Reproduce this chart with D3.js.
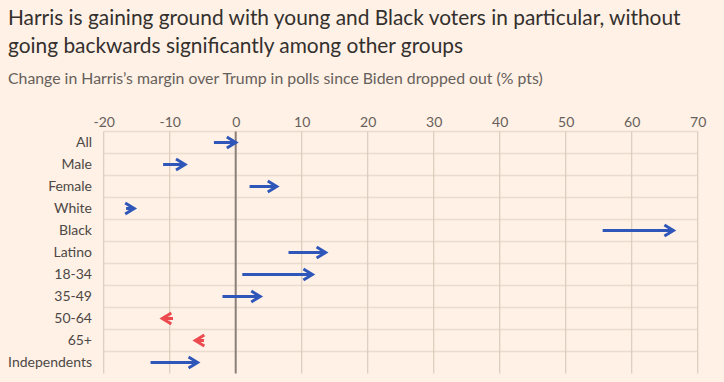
<!DOCTYPE html>
<html><head><meta charset="utf-8">
<script src="https://cdn.jsdelivr.net/npm/d3@7"></script>
<style>
body{margin:0;background:#fff1e5;}
svg{display:block;}
</style></head>
<body>
<svg id="chart" width="724" height="382"></svg>
<script>
const categories = ["All","Male","Female","White","Black","Latino","18-34","35-49","50-64","65+","Independents"];
const startValues = [-3.3,-11.0,2.1,-16.6,55.6,8.0,1.0,-2.0,-9.5,-4.8,-12.9];
const endValues   = [0.4,-7.3,6.6,-15.0,66.7,14.0,12.0,4.1,-11.5,-6.5,-5.4];
const tickValues = [-20,-10,0,10,20,30,40,50,60,70];

const titleLines = ["Harris is gaining ground with young and Black voters in particular, without","going backwards significantly among other groups"];
const subtitle = "Change in Harris\u2019s margin over Trump in polls since Biden dropped out (% pts)";

const font = "Lato, 'Noto Sans', sans-serif";
const svg = d3.select("#chart");
svg.append("rect").attr("width",724).attr("height",382).attr("fill","#fff1e5");

const x = d3.scaleLinear().domain([-20,70]).range([103.7,697.7]);
const y = d3.scaleBand().domain(categories).range([131.5,373.5]);

function fitSize(sel, base, target){
  const w = sel.node().getComputedTextLength();
  sel.attr("font-size", base*target/w);
}

// title
const t = svg.selectAll("text.title").data(titleLines).enter().append("text")
  .attr("class","title")
  .attr("x",8).attr("y",(d,i)=>25+i*28)
  .attr("font-family",font).attr("font-size",20).attr("fill","#33302e")
  .text(d=>d);
const t0 = svg.select("text.title");
const tw = t0.node().getComputedTextLength();
t.attr("font-size", 20*673/tw);

const st = svg.append("text").attr("x",8).attr("y",84)
  .attr("font-family",font).attr("font-size",14).attr("fill","#66605c")
  .text(subtitle);
fitSize(st,14,535);

// horizontal gridlines (row tops)
svg.append("g").selectAll("line").data(categories).enter().append("line")
  .attr("x1",x(-20)).attr("x2",x(70))
  .attr("y1",d=>y(d)).attr("y2",d=>y(d))
  .attr("stroke","#eadcd0").attr("stroke-width",1.5);

// vertical gridlines
svg.append("g").selectAll("line").data(tickValues.filter(v=>v!==0)).enter().append("line")
  .attr("x1",d=>x(d)).attr("x2",d=>x(d))
  .attr("y1",131.5).attr("y2",373.5)
  .attr("stroke","#dccbbd").attr("stroke-width",1.2);

// tick labels
const xAxis = d3.axisTop(x).tickValues(tickValues).tickSize(0).tickPadding(0).tickFormat(d3.format("d"));
const gx = svg.append("g").attr("transform","translate(0,127)").call(xAxis);
gx.select(".domain").remove();
gx.selectAll("text").attr("font-family",font).attr("font-size",14).attr("fill","#66605c")
  .text(d=>d<0 ? "-"+Math.abs(d) : d);

// category labels
const yAxis = d3.axisLeft(y).tickSize(0).tickPadding(0);
const gy = svg.append("g").attr("transform","translate(92,0)").call(yAxis);
gy.select(".domain").remove();
gy.selectAll("text").attr("font-family",font).attr("font-size",14).attr("fill","#4d4845");

// zero line
svg.append("line").attr("x1",x(0)).attr("x2",x(0)).attr("y1",131.5).attr("y2",373.5)
  .attr("stroke","#8a7f78").attr("stroke-width",2);

// arrows
const data = categories.map((c,i)=>({c,s:startValues[i],e:endValues[i]}));
const blue = "#2f56b9", red = "#ec4a4f";
const g = svg.append("g");
data.forEach(d=>{
  const dir = d.e>=d.s?1:-1;
  const col = dir>0?blue:red;
  const cy = y(d.c)+y.bandwidth()/2;
  const xs = x(d.s), xe = x(d.e) - dir*2.5;
  const hl = 9, hw = 5.5;
  g.append("line").attr("x1",xs).attr("x2",xe-dir*1.5).attr("y1",cy).attr("y2",cy)
    .attr("stroke",col).attr("stroke-width",3);
  g.append("path")
    .attr("d",`M${xe-dir*hl},${cy-hw}L${xe},${cy}L${xe-dir*hl},${cy+hw}`)
    .attr("fill","none").attr("stroke",col).attr("stroke-width",3)
    .attr("stroke-linejoin","miter").attr("stroke-linecap","butt");
});
</script>
</body></html>
